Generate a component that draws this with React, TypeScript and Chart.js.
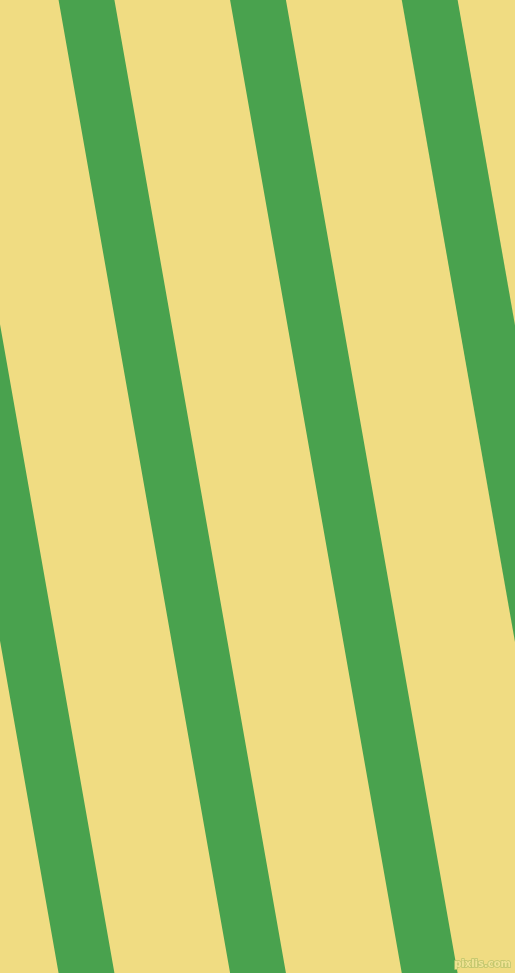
import { useEffect, useRef } from 'react';
import { Chart, registerables } from 'chart.js';

Chart.register(...registerables);

const WIDTH = 515;
const HEIGHT = 973;

// stripe centre lines, read at the top edge (y = 0) and bottom edge (y = 973)
const stripeTopX = [-85.1, 86.5, 258, 429.7];
const stripeBottomX = [86.5, 258, 429.7, 601.3];
const stripeWidth = 55;

const background = '#f0dc82';
const stripeColor = '#49a24e';
const watermark = 'pixlis.com';

const backgroundPlugin = {
  id: 'stripeBackground',
  beforeDraw: (chart: Chart) => {
    const { ctx } = chart;
    ctx.save();
    ctx.fillStyle = background;
    ctx.fillRect(0, 0, chart.width, chart.height);
    ctx.restore();
  },
  afterDraw: (chart: Chart) => {
    const { ctx } = chart;
    ctx.save();
    ctx.font = 'bold 10px "DejaVu Sans"';
    ctx.textAlign = 'right';
    ctx.textBaseline = 'alphabetic';
    ctx.lineWidth = 1.5;
    ctx.strokeStyle = '#bcc46c';
    ctx.strokeText(watermark, chart.width - 4, chart.height - 6);
    ctx.fillStyle = '#f2e494';
    ctx.fillText(watermark, chart.width - 4, chart.height - 6);
    ctx.restore();
  },
};

const App = () => {
  const canvasRef = useRef<HTMLCanvasElement>(null);
  const chartRef = useRef<Chart | null>(null);

  useEffect(() => {
    if (!canvasRef.current) return;

    if (chartRef.current) {
      chartRef.current.destroy();
    }

    const ctx = canvasRef.current.getContext('2d');
    if (!ctx) return;

    chartRef.current = new Chart(ctx, {
      type: 'scatter',
      data: {
        datasets: stripeTopX.map((top, i) => ({
          data: [
            { x: top, y: 0 },
            { x: stripeBottomX[i], y: HEIGHT },
          ],
          showLine: true,
          borderColor: stripeColor,
          backgroundColor: stripeColor,
          borderWidth: stripeWidth,
          borderCapStyle: 'square' as const,
          pointRadius: 0,
          fill: false,
          clip: false,
        })),
      },
      options: {
        animation: false,
        responsive: true,
        maintainAspectRatio: false,
        layout: { padding: 0 },
        plugins: {
          legend: { display: false },
          tooltip: { enabled: false },
        },
        scales: {
          x: { type: 'linear', min: 0, max: WIDTH, display: false },
          y: { type: 'linear', min: 0, max: HEIGHT, reverse: true, display: false },
        },
      },
      plugins: [backgroundPlugin],
    });

    return () => {
      if (chartRef.current) {
        chartRef.current.destroy();
        chartRef.current = null;
      }
    };
  }, []);

  return (
    <div style={{ position: 'absolute', left: 0, top: 0, width: WIDTH, height: HEIGHT }}>
      <canvas ref={canvasRef} />
    </div>
  );
};

export default App;
